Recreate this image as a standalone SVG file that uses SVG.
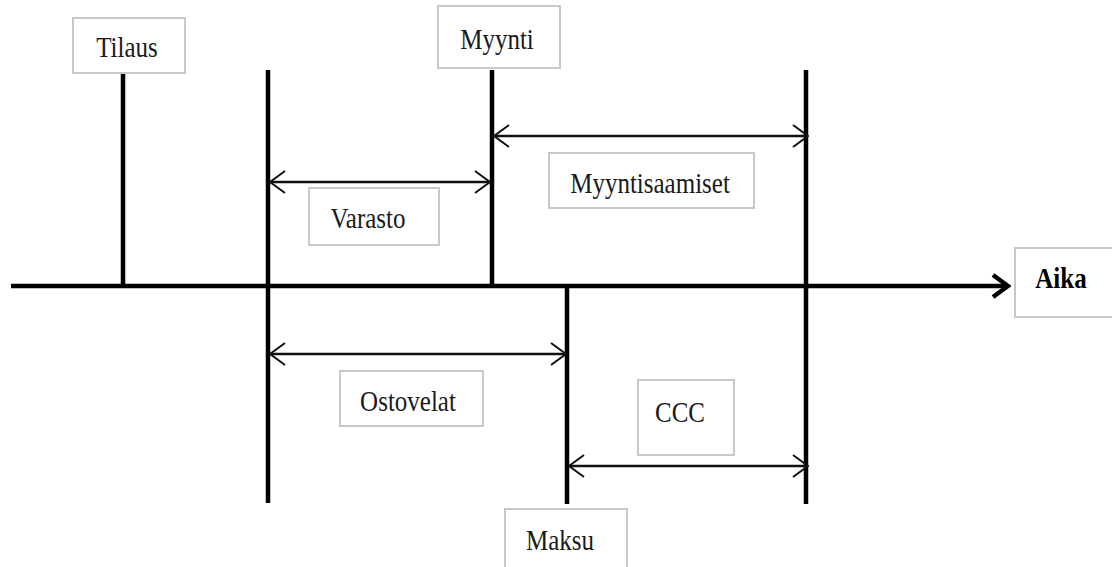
<svg xmlns="http://www.w3.org/2000/svg" width="1112" height="567" viewBox="0 0 1112 567">
<defs>
<style>
.box{fill:#fff;stroke:#c8c8c8;stroke-width:2}
.lbl{font-family:"Liberation Serif","Times New Roman",serif;font-size:25px;fill:#1a1a1a}
.bold{font-weight:bold;fill:#000}
.axis{stroke:#000;stroke-width:4.5;fill:none;stroke-linecap:butt}
.span{stroke:#111;stroke-width:2.5;fill:none}
</style>
<marker id="open" viewBox="0 0 20 24" refX="19" refY="12" markerWidth="20" markerHeight="24" markerUnits="userSpaceOnUse" orient="auto-start-reverse">
<path d="M4 1 L19 12 L4 23" fill="none" stroke="#111" stroke-width="2"/>
</marker>
<marker id="big" viewBox="0 0 24 28" refX="21" refY="14" markerWidth="24" markerHeight="28" markerUnits="userSpaceOnUse" orient="auto">
<path d="M6 3 L21 14 L6 25" fill="none" stroke="#000" stroke-width="4.5" stroke-linejoin="miter"/>
</marker>
</defs>
<rect width="1112" height="567" fill="#fff"/>
<g id="connectors">
<line class="axis" x1="11" y1="286" x2="1008" y2="286" marker-end="url(#big)"/>
<line class="axis" x1="123" y1="72" x2="123" y2="286"/>
<line class="axis" x1="268" y1="70" x2="268" y2="503"/>
<line class="axis" x1="492" y1="70" x2="492" y2="286"/>
<line class="axis" x1="567" y1="286" x2="567" y2="504"/>
<line class="axis" x1="806" y1="70" x2="806" y2="504"/>
<line class="span" x1="270" y1="182" x2="490" y2="182" marker-start="url(#open)" marker-end="url(#open)"/>
<line class="span" x1="494" y1="136" x2="808" y2="136" marker-start="url(#open)" marker-end="url(#open)"/>
<line class="span" x1="270" y1="354" x2="566" y2="354" marker-start="url(#open)" marker-end="url(#open)"/>
<line class="span" x1="569" y1="466" x2="808" y2="466" marker-start="url(#open)" marker-end="url(#open)"/>
</g>
<g id="tilaus">
<rect class="box" x="73" y="18" width="112" height="55"/>
<text class="lbl" transform="translate(127,57) scale(1,1.2)" text-anchor="middle">Tilaus</text>
</g>
<g id="myynti">
<rect class="box" x="438" y="6" width="122" height="62"/>
<text class="lbl" transform="translate(497,49) scale(1,1.2)" text-anchor="middle">Myynti</text>
</g>
<g id="aika">
<rect class="box" x="1015" y="248" width="100" height="69"/>
<text class="lbl bold" transform="translate(1061,288) scale(1,1.2)" text-anchor="middle">Aika</text>
</g>
<g id="varasto">
<rect class="box" x="309" y="188" width="130" height="57"/>
<text class="lbl" transform="translate(368,228) scale(1,1.2)" text-anchor="middle">Varasto</text>
</g>
<g id="myyntisaamiset">
<rect class="box" x="549" y="153" width="205" height="55"/>
<text class="lbl" transform="translate(650,193) scale(1,1.2)" text-anchor="middle">Myyntisaamiset</text>
</g>
<g id="ostovelat">
<rect class="box" x="340" y="371" width="143" height="55"/>
<text class="lbl" transform="translate(408,411) scale(1,1.2)" text-anchor="middle">Ostovelat</text>
</g>
<g id="ccc">
<rect class="box" x="638" y="380" width="96" height="75"/>
<text class="lbl" transform="translate(680,422) scale(1,1.2)" text-anchor="middle">CCC</text>
</g>
<g id="maksu">
<rect class="box" x="505" y="509" width="122" height="70"/>
<text class="lbl" transform="translate(560,550) scale(1,1.2)" text-anchor="middle">Maksu</text>
</g>
</svg>
